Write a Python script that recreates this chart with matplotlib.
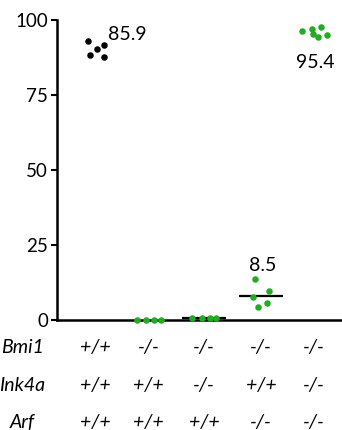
import matplotlib
matplotlib.use("Agg")
import matplotlib.pyplot as plt
import matplotlib.transforms as mtransforms

plt.rcParams["font.family"] = ["Lato", "DejaVu Sans"]

# genotype rows and columns
row_names = ["Bmi1", "Ink4a", "Arf"]
bmi1 = ["+/+", "-/-", "-/-", "-/-", "-/-"]
ink4a = ["+/+", "+/+", "-/-", "+/+", "-/-"]
arf = ["+/+", "+/+", "+/+", "-/-", "-/-"]

# individual values per group
g1_vals = [93.0, 90.3, 91.7, 88.3, 87.7]
g2_vals = [0.0, 0.0, 0.0, 0.0]
g3_vals = [0.6, 0.7, 0.7, 0.6]
g4_vals = [13.7, 9.7, 7.7, 4.3, 5.7]
g5_vals = [96.3, 97.0, 97.7, 95.3, 94.3, 95.0]

# reported means
mean_labels = ["85.9", None, None, "8.5", "95.4"]
mean_lines = [None, None, 0.7, 8.0, None]

values = [g1_vals, g2_vals, g3_vals, g4_vals, g5_vals]
colors = ["black", "#22ac22", "#22ac22", "#22ac22", "#22ac22"]

# layout
group_x = [0.68, 1.61, 2.58, 3.58, 4.51]
jitter = [
    [-0.14, 0.02, 0.14, -0.105, 0.14],
    [-0.21, -0.04, 0.09, 0.21],
    [-0.21, -0.04, 0.11, 0.21],
    [-0.10, 0.14, -0.14, -0.05, 0.11],
    [-0.21, -0.035, 0.12, -0.02, 0.07, 0.23],
]
label_pos = [(1.23, 95.0), None, None, (3.61, 18.3), (4.53, 86.0)]

fig = plt.figure(figsize=(3.42, 4.30), dpi=100)
ax = fig.add_axes([57 / 342, 1 - 320 / 430, 285 / 342, 300 / 430])

for i, vals in enumerate(values):
    xs = [group_x[i] + j for j in jitter[i]]
    if mean_lines[i] is not None:
        ax.plot([group_x[i] - 0.39, group_x[i] + 0.39], [mean_lines[i]] * 2,
                color="black", lw=1.6, zorder=2, solid_capstyle="butt")
    ax.scatter(xs, vals, s=22, color=colors[i], zorder=3, clip_on=False,
               linewidths=0)
    if mean_labels[i] is not None:
        lx, ly = label_pos[i]
        ax.text(lx, ly, mean_labels[i], ha="center", va="center", fontsize=14)

ax.set_xlim(0, 5)
ax.set_ylim(0, 100)
ax.set_yticks([0, 25, 50, 75, 100])
ax.tick_params(axis="y", direction="out", length=4.5, width=1.5, labelsize=13.5, pad=2)
ax.set_xticks([])
for side in ["top", "right"]:
    ax.spines[side].set_visible(False)
ax.spines["left"].set_linewidth(1.8)
ax.spines["bottom"].set_linewidth(1.8)

# genotype table under the axis
trans = mtransforms.blended_transform_factory(ax.transData, ax.transAxes)
row_y = [-0.093, -0.217, -0.343]
for r, row in enumerate([bmi1, ink4a, arf]):
    fig.text(22 / 342, 1 - (320 - row_y[r] * 300) / 430, row_names[r],
             ha="center", va="center", fontsize=14, style="italic")
    for i, g in enumerate(row):
        ax.text(group_x[i], row_y[r], g, transform=trans, ha="center",
                va="center", fontsize=14, style="italic")

fig.savefig("out.png", dpi=100)
